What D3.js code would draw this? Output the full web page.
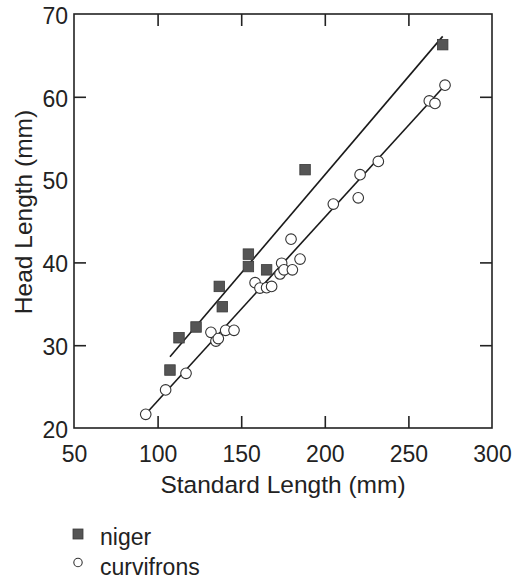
<!DOCTYPE html>
<html>
<head>
<meta charset="utf-8">
<script src="https://cdn.jsdelivr.net/npm/d3@7"></script>
<style>
  body { margin: 0; background: #fff; }
  svg text { font-family: "Liberation Sans", Arial, sans-serif; fill: #222; }
</style>
</head>
<body>
<div id="chart"></div>
<script>
// niger (filled squares)
const nigerSL = [107.4, 112.8, 123, 136.9, 138.7, 154.3, 154.3, 165.2, 188.2, 270.5];
const nigerHL = [27.0, 30.9, 32.2, 37.1, 34.65, 41.0, 39.5, 39.1, 51.2, 66.3];

// curvifrons (open circles)
const curvSL = [92.9, 104.8, 117, 131.9, 134.9, 136.3, 140.7, 145.7, 158.3, 161.2, 165.2, 168.2,
                173.2, 174.2, 175.6, 180.6, 185.2, 179.8, 205.1, 220, 221.1, 232, 262.5, 265.9, 271.9];
const curvHL = [21.65, 24.6, 26.6, 31.55, 30.5, 30.8, 31.8, 31.8, 37.55, 36.9, 36.95, 37.1,
                38.6, 39.9, 39.1, 39.1, 40.4, 42.8, 47.05, 47.8, 50.6, 52.2, 59.5, 59.2, 61.4];

// fitted lines: [slope, intercept], drawn over [xStart, xEnd]
const nigerFit = [0.2373, 3.11], nigerFitRange = [107.4, 270.5];
const curvFit = [0.2218, 1.09], curvFitRange = [92.9, 271.9];

const xTicks = [50, 100, 150, 200, 250, 300];
const yTicks = [20, 30, 40, 50, 60, 70];
const legendLabels = ["niger", "curvifrons"];

var width = 513, height = 580;
var margin = {top: 14, right: 21, bottom: 152, left: 74};
var w = width - margin.left - margin.right,
    h = height - margin.top - margin.bottom;

var svg = d3.select("#chart").append("svg")
    .attr("width", width)
    .attr("height", height);

var g = svg.append("g")
    .attr("transform", "translate(" + margin.left + "," + margin.top + ")");

var x = d3.scaleLinear().domain([50, 300]).range([0, w]);
var y = d3.scaleLinear().domain([20, 70]).range([h, 0]);

// frame
g.append("rect")
    .attr("width", w).attr("height", h)
    .attr("fill", "none").attr("stroke", "#222").attr("stroke-width", 1.6);

// inward ticks on all four sides
function styleAxis(sel) {
    sel.select(".domain").remove();
    sel.selectAll("line").attr("stroke", "#222").attr("stroke-width", 1.6);
}
var tl = 12;
g.append("g").attr("transform", "translate(0," + h + ")")
    .call(d3.axisBottom(x).tickValues(xTicks).tickSize(-tl).tickPadding(tl + 6).tickFormat(d3.format("d")))
    .call(styleAxis)
    .selectAll("text").style("font-size", "23px").attr("fill", "#222");
g.append("g")
    .call(d3.axisTop(x).tickValues(xTicks.slice(1, -1)).tickSize(-tl).tickFormat(""))
    .call(styleAxis);
g.append("g")
    .call(d3.axisLeft(y).tickValues(yTicks).tickSize(-tl).tickPadding(6).tickFormat(d3.format("d")))
    .call(styleAxis)
    .selectAll("text").style("font-size", "23px").attr("fill", "#222").attr("dy", "0.4em");
g.append("g").attr("transform", "translate(" + w + ",0)")
    .call(d3.axisRight(y).tickValues(yTicks.slice(1, -1)).tickSize(-tl).tickFormat(""))
    .call(styleAxis);

// hide ticks that would sit on the frame corners
g.selectAll(".tick").filter(function(d) { return d === 50 || d === 300; }).select("line").remove();
g.selectAll(".tick").filter(function(d) { return d === 20 || d === 70; }).select("line").remove();

// axis titles
g.append("text")
    .attr("x", w / 2).attr("y", h + 65)
    .attr("text-anchor", "middle").style("font-size", "24.5px")
    .text("Standard Length (mm)");
g.append("text")
    .attr("transform", "translate(" + (-42) + "," + (h / 2 - 9) + ") rotate(-90)")
    .attr("text-anchor", "middle").style("font-size", "24.5px")
    .text("Head Length (mm)");

// fitted lines
var line = d3.line().x(d => x(d[0])).y(d => y(d[1]));
[[nigerFit, nigerFitRange], [curvFit, curvFitRange]].forEach(function(f) {
    var pts = f[1].map(v => [v, f[0][0] * v + f[0][1]]);
    g.append("path").attr("d", line(pts))
        .attr("fill", "none").attr("stroke", "#1a1a1a").attr("stroke-width", 1.6);
});

// curvifrons circles
g.selectAll("circle.curv")
    .data(curvSL.map((v, i) => [v, curvHL[i]]))
    .enter().append("circle")
    .attr("class", "curv")
    .attr("cx", d => x(d[0])).attr("cy", d => y(d[1]))
    .attr("r", 5.3)
    .attr("fill", "#fff").attr("stroke", "#333").attr("stroke-width", 1.1);

// niger squares
var sq = 10.5;
g.selectAll("rect.niger")
    .data(nigerSL.map((v, i) => [v, nigerHL[i]]))
    .enter().append("rect")
    .attr("class", "niger")
    .attr("x", d => x(d[0]) - sq / 2).attr("y", d => y(d[1]) - sq / 2)
    .attr("width", sq).attr("height", sq)
    .attr("fill", "#555").attr("stroke", "#3a3a3a").attr("stroke-width", 0.8);

// legend
var leg = svg.append("g").attr("transform", "translate(78,0)");
leg.append("rect").attr("x", -5).attr("y", 529).attr("width", 10).attr("height", 10)
    .attr("fill", "#555").attr("stroke", "#3a3a3a").attr("stroke-width", 0.8);
leg.append("circle").attr("cx", 0).attr("cy", 562.5).attr("r", 4.2)
    .attr("fill", "#fff").attr("stroke", "#333").attr("stroke-width", 1.1);
leg.selectAll("text.leg")
    .data(legendLabels)
    .enter().append("text")
    .attr("class", "leg")
    .attr("x", 22).attr("y", (d, i) => 545 + i * 29.5)
    .style("font-size", "23px")
    .text(d => d);
</script>
</body>
</html>
